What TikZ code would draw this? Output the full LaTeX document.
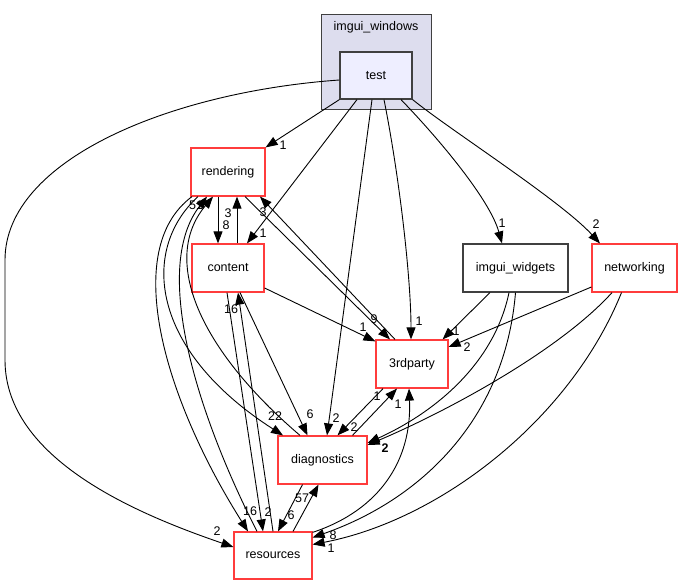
\documentclass[tikz,border=0pt]{standalone}
\usepackage{fontspec}
\setmainfont{Liberation Sans}
\usetikzlibrary{arrows.meta}
\definecolor{redc}{RGB}{255,60,60}
\definecolor{grayc}{RGB}{64,64,64}
\definecolor{clusterfill}{RGB}{221,221,238}
\definecolor{testfill}{RGB}{238,238,255}
\begin{document}
\begin{tikzpicture}[x=1pt,y=-1pt,
  font=\fontsize{12.5}{14}\selectfont,
  dirnode/.style={draw=redc, line width=1.2pt, fill=white, inner sep=0pt, rectangle},
  plainnode/.style={draw=grayc, line width=1.2pt, fill=white, inner sep=0pt, rectangle},
  dep/.style={-{Triangle[length=12pt,width=9pt]}, line width=0.9pt, black},
  lab/.style={inner sep=0pt, font=\fontsize{12.5}{14}\selectfont}]
\useasboundingbox (0,0) rectangle (682,585);
% cluster
\node[draw=grayc, line width=1pt, fill=clusterfill, minimum width=110pt, minimum height=95pt, inner sep=0pt] (clu) at (376,62.5) {};
\node[inner sep=0pt] (clulabel) at (376,27) {imgui\_windows};
\node[draw=grayc, line width=1.2pt, fill=testfill, minimum width=72pt, minimum height=47pt, inner sep=0pt] (test) at (376,75.5) {test};
% nodes
\node[dirnode, minimum width=74pt, minimum height=48pt] (rendering) at (228,172) {rendering};
\node[dirnode, minimum width=72pt, minimum height=48pt] (content) at (228,268) {content};
\node[plainnode, minimum width=105pt, minimum height=48pt] (widgets) at (515.5,268) {imgui\_widgets};
\node[dirnode, minimum width=85pt, minimum height=48pt] (networking) at (634.5,268) {networking};
\node[dirnode, minimum width=72pt, minimum height=48pt] (third) at (412,364) {3rdparty};
\node[dirnode, minimum width=89pt, minimum height=48pt] (diagnostics) at (322.5,460) {diagnostics};
\node[dirnode, minimum width=78pt, minimum height=47pt] (resources) at (273,555.5) {resources};
% edges from test
\draw[dep] (test.south west) -- (rendering.north east) node[lab] at (283,145) {1};
\draw[dep] ([yshift=-4.5pt]test.west) .. controls (170,92) and (5,160) .. (5,260) -- (5,360) .. controls (5,460) and (140,515) .. ([yshift=8.5pt]resources.west) node[lab] at (217,531) {2};
\draw[dep] ([xshift=-19pt]test.south) -- ([xshift=19pt]content.north) node[lab] at (263,233) {1};
\draw[dep] ([xshift=-4pt]test.south) -- ([xshift=4.5pt]diagnostics.north) node[lab] at (336,418) {2};
\draw[dep] ([xshift=8pt]test.south) .. controls (400,180) and (411,280) .. ([xshift=-1pt]third.north) node[lab] at (419,321) {1};
\draw[dep] ([xshift=25pt]test.south) .. controls (440,140) and (490,200) .. ([xshift=-13.5pt]widgets.north) node[lab] at (502,223) {1};
\draw[dep] (test.south east) .. controls (450,130) and (560,200) .. ([xshift=-34.5pt]networking.north) node[lab] at (596,224) {2};
% rendering / content
\draw[dep] ([xshift=-10pt]rendering.south) -- ([xshift=-10pt]content.north) node[lab] at (226,225) {8};
\draw[dep] ([xshift=9pt]content.north) -- ([xshift=9pt]rendering.south) node[lab] at (228,213) {3};
\draw[dep] ([xshift=17pt]rendering.south) -- ([xshift=-22pt]third.north) node[lab] at (374,319) {9};
\draw[dep] ([xshift=-17pt]third.north) -- ([xshift=32pt]rendering.south) node[lab] at (263,212) {3};
\draw[dep] ([yshift=-20pt]content.east) -- ([yshift=-2pt]third.north west) node[lab] at (363,327) {1};
\draw[dep] ([xshift=12pt]content.south) -- ([xshift=-15pt]diagnostics.north) node[lab] at (310,414) {6};
\draw[dep] ([xshift=-1pt]content.south) -- ([xshift=-10pt]resources.north) node[lab] at (268,512) {2};
\draw[dep] (resources.north) -- ([xshift=10pt]content.south) node[lab] at (231,309) {16};
\draw[dep] ([xshift=-36pt]rendering.south) .. controls (120,250) and (165,400) .. ([xshift=-25pt]resources.north) node[lab] at (250,511) {16};
\draw[dep] ([xshift=-30pt]rendering.south) .. controls (140,250) and (150,350) .. ([xshift=-39.5pt]diagnostics.north) node[lab] at (275,416) {22};
\draw[dep] ([xshift=-16pt]resources.north) .. controls (200,420) and (150,270) .. ([xshift=-21pt]rendering.south) node[lab] at (196,205) {51};
\draw[dep] ([xshift=-22.5pt]diagnostics.north) .. controls (200,350) and (160,260) .. ([xshift=-15pt]rendering.south);
% 3rdparty / diagnostics / resources
\draw[dep] ([xshift=-29pt]third.south) -- ([xshift=15pt]diagnostics.north) node[lab] at (354,427) {2};
\draw[dep] ([xshift=30pt]diagnostics.north) -- ([xshift=-15pt]third.south) node[lab] at (377,396) {1};
\draw[dep] ([yshift=-1pt]resources.north east) .. controls (380,510) and (412,460) .. ([xshift=-3pt]third.south) node[lab] at (398,404) {1};
\draw[dep] ([xshift=-20pt]diagnostics.south) -- ([xshift=5pt]resources.north) node[lab] at (291,515) {6};
\draw[dep] ([xshift=20pt]resources.north) -- ([xshift=-4pt]diagnostics.south) node[lab] at (302,498) {57};
% widgets / networking
\draw[dep] ([xshift=-25.5pt]widgets.south) -- ([xshift=-6pt]third.north east) node[lab] at (456,331) {1};
\draw[dep] ([yshift=-19pt]networking.west) -- ([yshift=17pt]third.east) node[lab] at (467,347) {2};
\draw[dep] ([xshift=-6.5pt]widgets.south) .. controls (495,360) and (440,410) .. ([yshift=17pt]diagnostics.east);
\draw[dep] ([xshift=-22.5pt]networking.south) .. controls (560,350) and (450,410) .. ([yshift=15pt]diagnostics.east) node[lab, font=\fontsize{12.5}{14}\selectfont\bfseries] at (385,448) {2};
\draw[dep] (widgets.south) .. controls (505,420) and (420,500) .. ([yshift=18pt]resources.east) node[lab] at (333,535) {8};
\draw[dep] ([xshift=-13pt]networking.south) .. controls (570,420) and (440,520) .. ([yshift=11pt]resources.east) node[lab] at (331,548) {1};
\end{tikzpicture}
\end{document}
